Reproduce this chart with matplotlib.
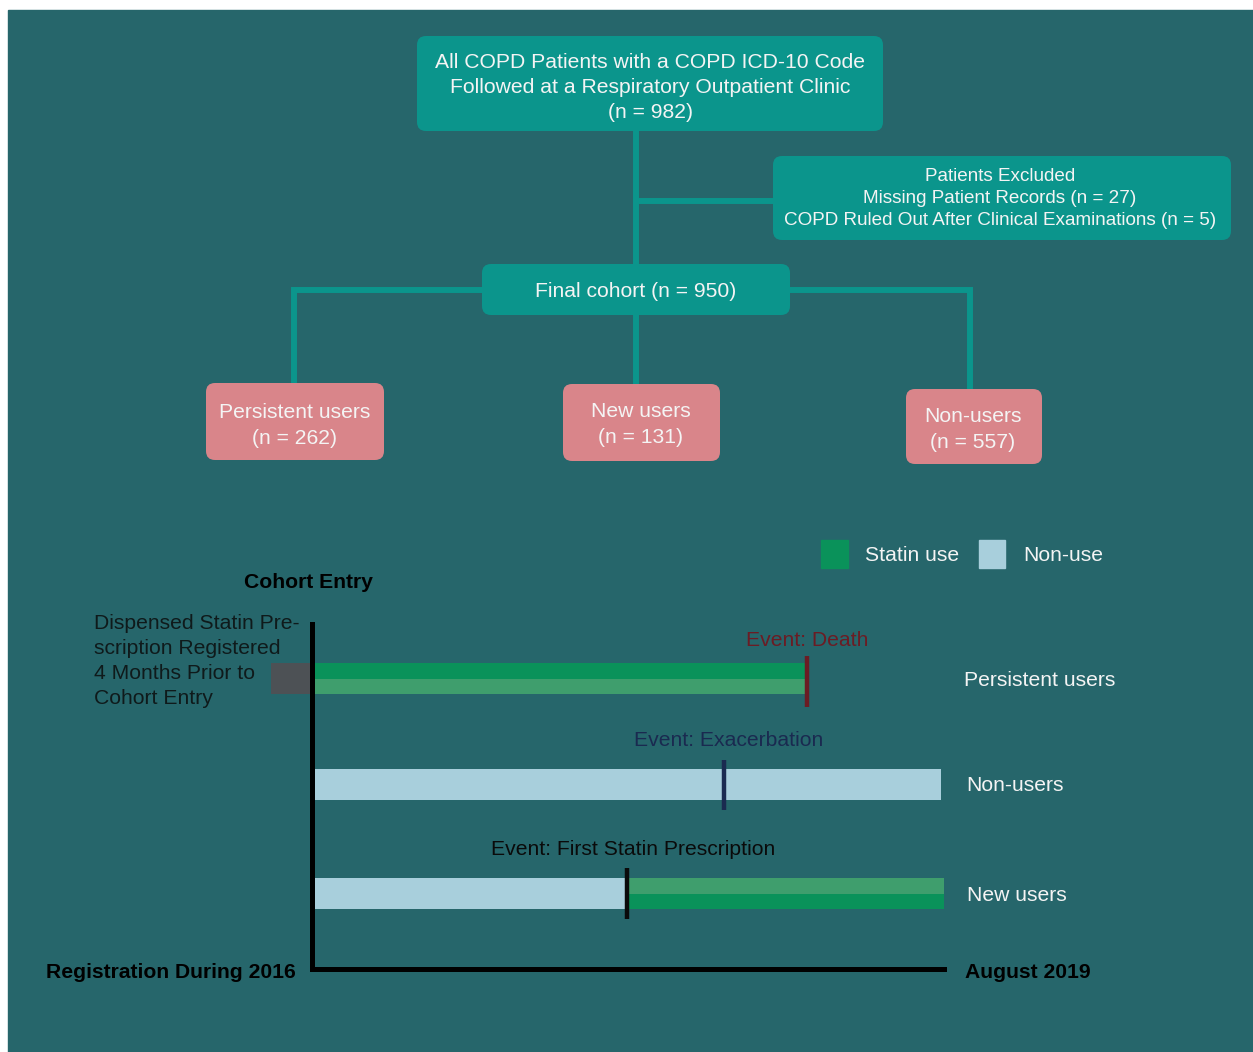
import matplotlib
matplotlib.use("Agg")
import matplotlib.pyplot as plt
from matplotlib.patches import FancyBboxPatch, Rectangle

plt.rcParams['font.family'] = ['Liberation Sans', 'DejaVu Sans']

# === DATOS ===
n_total = 982
excluded_labels = ["Missing Patient Records", "COPD Ruled Out After Clinical Examinations"]
excluded_n = [27, 5]
n_final = 950
group_names = ["Persistent users", "New users", "Non-users"]
group_n = [262, 131, 557]

# timeline (fraccion del seguimiento, 0 = entrada, 1 = agosto 2019)
row_names = ["Persistent users", "Non-users", "New users"]
row_end = [0.78, 0.995, 1.0]
row_switch = [None, None, 0.497]          # paso de no-uso a uso de estatinas
row_first = ["statin", "none", "none"]
event_labels = ["Event: Death", "Event: Exacerbation", "Event: First Statin Prescription"]
event_x = [0.783, 0.65, 0.497]
prior_start = -0.068

# === ESTILO ===
BG = '#26666b'
TEAL = '#0b958c'
PINK = '#d9858a'
GREEN = '#0a925a'
GREEN2 = '#3f9e6d'
BLUE = '#a8cfdc'
WHITE = '#f4f4f4'
event_colors = ['#6b1c24', '#1a2a50', '#0a0a0a']
FS = 15.2
DY = 1.5  # pequeño ajuste vertical del texto

W, H = 1253, 1052
fig = plt.figure(figsize=(W / 100, H / 100), dpi=100, facecolor='white')
ax = fig.add_axes([0, 0, 1, 1])
ax.set_xlim(0, W)
ax.set_ylim(H, 0)
ax.axis('off')

ax.add_patch(Rectangle((8, 10), W, H, color=BG, zorder=0, clip_on=False))


def box(x0, y0, x1, y1, color, lines, cx, ys, size):
    ax.add_patch(FancyBboxPatch((x0, y0), x1 - x0, y1 - y0,
                                boxstyle="round,pad=0,rounding_size=9",
                                fc=color, ec='none', zorder=3))
    for t, y in zip(lines, ys):
        ax.text(cx, y + DY, t, ha='center', va='center', color=WHITE,
                fontsize=size, zorder=4)


lw_conn = 4.3
def conn(xs, ys):
    ax.plot(xs, ys, color=TEAL, lw=lw_conn, solid_capstyle='butt',
            solid_joinstyle='miter', zorder=2)

# conectores
conn([636, 636], [131, 264])
conn([636, 773], [201, 201])
conn([636, 636], [315, 384])
conn([482, 294, 294], [290, 290, 383])
conn([790, 970, 970], [290, 290, 389])

# cajas
box(417, 36, 883, 131, TEAL,
    ["All COPD Patients with a COPD ICD-10 Code",
     "Followed at a Respiratory Outpatient Clinic",
     f"(n = {n_total})"], 650, [61, 86, 111], FS)
box(773, 156, 1231, 240, TEAL,
    ["Patients Excluded"] + [f"{l} (n = {n})" for l, n in zip(excluded_labels, excluded_n)],
    1000, [175, 197, 219], 13.6)
box(482, 264, 790, 315, TEAL, [f"Final cohort (n = {n_final})"], 636, [290], FS)

pink_boxes = [(206, 383, 384, 460, 295, 411), (563, 384, 720, 461, 641, 410),
              (906, 389, 1042, 464, 973, 415)]
for (x0, y0, x1, y1, cx, ty), name, n in zip(pink_boxes, group_names, group_n):
    box(x0, y0, x1, y1, PINK, [name, f"(n = {n})"], cx, [ty, ty + 26], FS)

# leyenda
ax.add_patch(Rectangle((821, 540), 27, 28, color=GREEN, zorder=3))
ax.text(865, 554 + DY, "Statin use", color=WHITE, fontsize=FS, va='center')
ax.add_patch(Rectangle((979, 540), 26, 28, color=BLUE, zorder=3))
ax.text(1023, 554 + DY, "Non-use", color=WHITE, fontsize=FS, va='center')

# === TIMELINE ===
X0, X1 = 314, 944
Y0, Y1 = 600, 1000
tl = fig.add_axes([X0 / W, 1 - Y1 / H, (X1 - X0) / W, (Y1 - Y0) / H])
tl.set_xlim(0, 1)
tl.set_ylim(Y1, Y0)
tl.axis('off')

row_y = [678.5, 784, 893.5]
bh = 31

for i, (y, end, sw, first) in enumerate(zip(row_y, row_end, row_switch, row_first)):
    if first == "statin":
        tl.barh(y - bh / 4, end, height=bh / 2, left=0, color=GREEN, zorder=2)
        tl.barh(y + bh / 4, end, height=bh / 2, left=0, color=GREEN2, zorder=2)
    elif sw is None:
        tl.barh(y, end, height=bh, left=0, color=BLUE, zorder=2)
    else:
        tl.barh(y, sw, height=bh, left=0, color=BLUE, zorder=2)
        tl.barh(y - bh / 4, end - sw, height=bh / 2, left=sw, color=GREEN2, zorder=2)
        tl.barh(y + bh / 4, end - sw, height=bh / 2, left=sw, color=GREEN, zorder=2)
    tl.text(1.032 if i == 0 else 1.036, y + DY, row_names[i], color=WHITE, fontsize=FS,
            va='center', ha='left', clip_on=False)

# registro previo (gris)
tl.barh(row_y[0], -prior_start, height=bh, left=prior_start, color='#4d5155',
        zorder=2, clip_on=False)

# eventos
label_dx = [0, 0.008, 0.009]
label_dy = [39.5, 45, 45.5]
tick_span = [(22.5, 28.5), (24, 26), (25.5, 25.5)]
for y, ex, lab, c, dx, dy, (up, dn) in zip(row_y, event_x, event_labels, event_colors,
                                           label_dx, label_dy, tick_span):
    tl.plot([ex, ex], [y - up, y + dn], color=c, lw=3.2, zorder=3, solid_capstyle='butt')
    tl.text(ex + dx, y - dy + DY, lab, color=c, fontsize=FS, ha='center', va='center')

# ejes
tl.plot([-0.003, -0.003, 1.0], [624, 969, 969], color='black', lw=3.6,
        solid_joinstyle='miter', clip_on=False, zorder=4)

ax.text(308, 581 + DY, "Cohort Entry", fontsize=FS, fontweight='bold', color='black',
        ha='center', va='center')
ax.text(296, 971 + DY, "Registration During 2016", fontsize=FS, fontweight='bold',
        color='black', ha='right', va='center')
ax.text(965, 971 + DY, "August 2019", fontsize=FS, fontweight='bold', color='black',
        ha='left', va='center')
for t, y in zip(["Dispensed Statin Pre-", "scription Registered",
                 "4 Months Prior to", "Cohort Entry"], [622, 647, 672, 697]):
    ax.text(94, y + DY, t, fontsize=FS, color='#0f1a1b', ha='left', va='center')

fig.savefig('out.png', dpi=100, facecolor='white')
